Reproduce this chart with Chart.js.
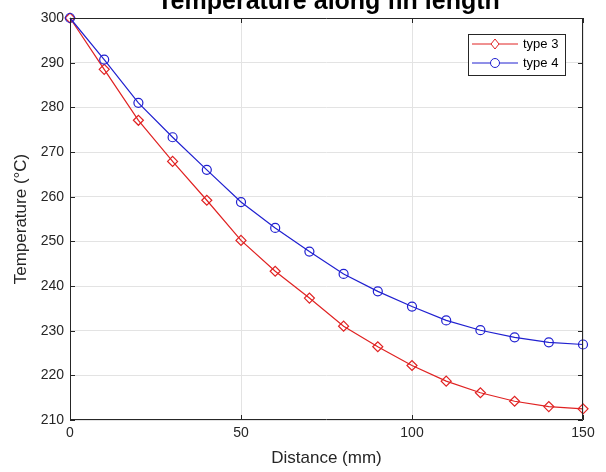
<!DOCTYPE html>
<html>
<head>
<meta charset="utf-8">
<script src="https://cdn.jsdelivr.net/npm/chart.js@4"></script>
<style>
  html, body { margin: 0; padding: 0; background: #fff; }
  #wrap { width: 606px; height: 472px; }
</style>
</head>
<body>
<div id="wrap"><canvas id="chart" width="606" height="472"></canvas></div>
<script>
const distance = [0, 10, 20, 30, 40, 50, 60, 70, 80, 90, 100, 110, 120, 130, 140, 150];
const type3 = [300, 288.5, 277.1, 267.9, 259.2, 250.2, 243.3, 237.3, 231.0, 226.4, 222.2, 218.7, 216.1, 214.2, 213.0, 212.5];
const type4 = [300, 290.7, 281.0, 273.3, 266.0, 258.8, 253.0, 247.7, 242.7, 238.8, 235.4, 232.3, 230.1, 228.5, 227.4, 226.9];
const xTicks = [0, 50, 100, 150];
const yTicks = [210, 220, 230, 240, 250, 260, 270, 280, 290, 300];

const titleText = "Temperature along fin length";
const textColor = "#262626";
const fontFamily = "'Liberation Sans', Arial, sans-serif";

function points(ys) {
    return distance.map((x, i) => ({ x: x, y: ys[i] }));
}

// box, inward ticks, title and legend the way matlab draws them
const matlabFrame = {
    id: "matlabFrame",
    afterDraw(chart) {
        const c = chart.ctx;
        const area = chart.chartArea;
        const xs = chart.scales.x;
        const ys = chart.scales.y;

        c.save();
        c.strokeStyle = textColor;
        c.lineWidth = 1;
        c.beginPath();
        c.rect(area.left + 0.5, area.top + 0.5, area.right - area.left - 1, area.bottom - area.top - 1);
        c.stroke();

        const tl = 5;
        c.beginPath();
        xTicks.forEach(v => {
            const px = Math.round(xs.getPixelForValue(v)) + 0.5;
            c.moveTo(px, area.bottom); c.lineTo(px, area.bottom - tl);
            c.moveTo(px, area.top); c.lineTo(px, area.top + tl);
        });
        yTicks.forEach(v => {
            const py = Math.round(ys.getPixelForValue(v)) + 0.5;
            c.moveTo(area.left, py); c.lineTo(area.left + tl, py);
            c.moveTo(area.right, py); c.lineTo(area.right - tl, py);
        });
        c.stroke();

        // title, partly cut by the top edge like in the picture
        c.fillStyle = "#000";
        c.font = "bold 25px " + fontFamily;
        c.textAlign = "center";
        c.textBaseline = "alphabetic";
        c.fillText(titleText, (area.left + area.right) / 2 + 2, 9);

        // legend
        const lx = 468, ly = 34, lw = 97, lh = 41;
        c.fillStyle = "#fff";
        c.fillRect(lx, ly, lw, lh);
        c.strokeStyle = textColor;
        c.strokeRect(lx + 0.5, ly + 0.5, lw, lh);
        const rows = [chart.data.datasets[1], chart.data.datasets[0]];
        c.font = "13px " + fontFamily;
        c.textAlign = "left";
        c.textBaseline = "middle";
        rows.forEach((ds, i) => {
            const yy = ly + 10 + i * 19;
            c.strokeStyle = ds.borderColor;
            c.beginPath();
            c.moveTo(lx + 4, yy); c.lineTo(lx + 50, yy);
            c.stroke();
            c.beginPath();
            const mx = lx + 27;
            if (ds.pointStyle === "rectRot") {
                c.moveTo(mx, yy - 5); c.lineTo(mx + 4, yy); c.lineTo(mx, yy + 5); c.lineTo(mx - 4, yy); c.closePath();
            } else {
                c.arc(mx, yy, 4.5, 0, Math.PI * 2);
            }
            c.fillStyle = "#fff";
            c.fill();
            c.stroke();
            c.fillStyle = "#000";
            c.fillText(ds.label, lx + 55, yy);
        });
        c.restore();
    }
};

new Chart(document.getElementById("chart"), {
    type: "line",
    data: {
        datasets: [
            {
                label: "type 4",
                data: points(type4),
                borderColor: "#2020d0",
                backgroundColor: "rgba(0,0,0,0)",
                borderWidth: 1.2,
                pointStyle: "circle",
                pointRadius: 4.5,
                pointBorderWidth: 1.2,
                pointBackgroundColor: "rgba(0,0,0,0)",
                pointBorderColor: "#2020d0",
                tension: 0,
                order: 0
            },
            {
                label: "type 3",
                data: points(type3),
                borderColor: "#e02222",
                backgroundColor: "rgba(0,0,0,0)",
                borderWidth: 1.2,
                pointStyle: "rectRot",
                pointRadius: 5,
                pointBorderWidth: 1.2,
                pointBackgroundColor: "rgba(0,0,0,0)",
                pointBorderColor: "#e02222",
                tension: 0,
                order: 1
            }
        ]
    },
    options: {
        responsive: false,
        animation: false,
        clip: false,
        layout: { padding: { top: 18, right: 23, left: 0, bottom: 0 } },
        plugins: {
            legend: { display: false },
            tooltip: { enabled: false },
            title: { display: false }
        },
        scales: {
            x: {
                type: "linear",
                min: 0,
                max: 150,
                afterFit(scale) { scale.height = 52; },
                afterBuildTicks(scale) { scale.ticks = xTicks.map(v => ({ value: v })); },
                grid: { color: "#e3e3e3", drawTicks: false },
                border: { display: false },
                ticks: {
                    color: textColor,
                    padding: 5,
                    font: { family: fontFamily, size: 14 }
                },
                title: {
                    display: true,
                    text: "Distance (mm)",
                    color: textColor,
                    font: { family: fontFamily, size: 17 },
                    padding: { top: 0, bottom: 3 }
                }
            },
            y: {
                min: 210,
                max: 300,
                afterFit(scale) { scale.width = 70; },
                afterBuildTicks(scale) { scale.ticks = yTicks.map(v => ({ value: v })); },
                grid: { color: "#e3e3e3", drawTicks: false },
                border: { display: false },
                ticks: {
                    color: textColor,
                    padding: 6,
                    font: { family: fontFamily, size: 14 }
                },
                title: {
                    display: true,
                    text: "Temperature (°C)",
                    color: textColor,
                    font: { family: fontFamily, size: 17 },
                    padding: { top: 11, bottom: 0 }
                }
            }
        }
    },
    plugins: [matlabFrame]
});
</script>
</body>
</html>
